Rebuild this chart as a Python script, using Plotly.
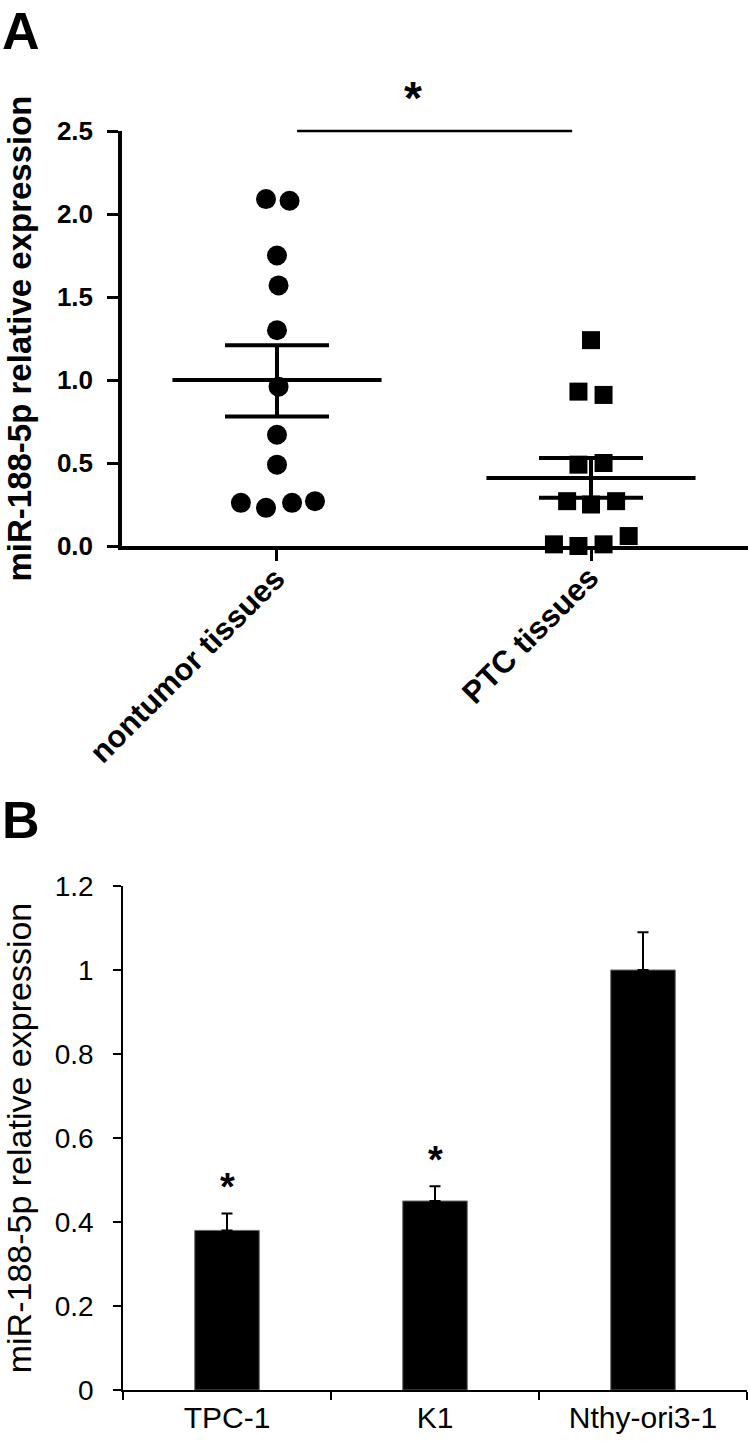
import plotly.graph_objects as go

# ---------------- Panel A data ----------------
groups_a = ["nontumor tissues", "PTC tissues"]
nontumor_vals = [2.09, 2.08, 1.75, 1.57, 1.30, 0.96, 0.67, 0.49, 0.26, 0.23, 0.26, 0.27]
nontumor_jitter = [-0.035, 0.04, 0.0, 0.005, 0.0, 0.005, 0.0, 0.0, -0.115, -0.035, 0.048, 0.121]
ptc_vals = [1.24, 0.93, 0.91, 0.49, 0.50, 0.27, 0.25, 0.27, 0.01, 0.0, 0.01, 0.06]
ptc_jitter = [0.0, -0.04, 0.04, -0.04, 0.04, -0.076, 0.0, 0.08, -0.118, -0.04, 0.04, 0.12]
means_a = [1.00, 0.41]
sem_up_a = [0.21, 0.12]
sem_dn_a = [0.22, 0.12]
yticks_a = [0.0, 0.5, 1.0, 1.5, 2.0, 2.5]
ymax_a = 2.5
star_a_y = 2.70

# ---------------- Panel B data ----------------
cells_b = ["TPC-1", "K1", "Nthy-ori3-1"]
vals_b = [0.38, 0.45, 1.00]
err_b = [0.04, 0.035, 0.09]
star_b = ["*", "*", ""]
yticks_b = [0, 0.2, 0.4, 0.6, 0.8, 1, 1.2]

FONT = "Liberation Sans, Arial, sans-serif"
W, H = 750, 1442

fig = go.Figure()

# Panel A points
fig.add_trace(go.Scatter(
    x=[0 + j for j in nontumor_jitter], y=nontumor_vals, mode="markers",
    marker=dict(symbol="circle", size=20, color="black"),
    cliponaxis=False, xaxis="x", yaxis="y", showlegend=False))
fig.add_trace(go.Scatter(
    x=[1 + j for j in ptc_jitter], y=ptc_vals, mode="markers",
    marker=dict(symbol="square", size=18, color="black"),
    cliponaxis=False, xaxis="x", yaxis="y", showlegend=False))

# mean lines and SEM bars
for i, m in enumerate(means_a):
    fig.add_trace(go.Scatter(
        x=[i - 0.333, i + 0.333], y=[m, m], mode="lines",
        line=dict(color="black", width=4), xaxis="x", yaxis="y", showlegend=False))
    fig.add_trace(go.Scatter(
        x=[i], y=[m], mode="markers", marker=dict(size=1, color="black"),
        error_y=dict(type="data", symmetric=False, array=[sem_up_a[i]],
                     arrayminus=[sem_dn_a[i]], color="black", thickness=4, width=52),
        xaxis="x", yaxis="y", showlegend=False))

# Panel B bars
fig.add_trace(go.Bar(
    x=cells_b, y=vals_b,
    marker=dict(color="black", line=dict(color="#666666", width=1)),
    error_y=dict(type="data", symmetric=False, array=err_b, arrayminus=[0] * len(err_b),
                 color="black", thickness=2, width=5.5),
    xaxis="x2", yaxis="y2", showlegend=False))

ya0, ya1 = 1 - 546 / H, 1 - 131 / H
yb0, yb1 = 1 - 1390 / H, 1 - 886 / H

fig.update_layout(
    width=W, height=H, autosize=False,
    margin=dict(l=0, r=0, t=0, b=0, autoexpand=False),
    paper_bgcolor="white", plot_bgcolor="white",
    font=dict(family=FONT, color="black"),
    bargap=0.69,
    xaxis=dict(domain=[122 / W, 748 / W], range=[-0.4936, 1.5], automargin=False,
               tickvals=[0, 1], ticktext=groups_a, showticklabels=False,
               showline=True, linecolor="black", linewidth=3.5,
               ticks="outside", ticklen=11, tickwidth=3, tickcolor="black",
               showgrid=False, zeroline=False,
               anchor="y"),
    yaxis=dict(domain=[ya0, ya1], range=[0, ymax_a], automargin=False,
               tickvals=yticks_a, ticktext=[f"{v:.1f}" for v in yticks_a],
               showline=True, linecolor="black", linewidth=3.5,
               ticks="outside", ticklen=11, tickwidth=3, tickcolor="black",
               ticklabelstandoff=9,
               showgrid=False, zeroline=False,
               tickfont=dict(family=FONT, size=26, color="black", weight="bold"),
               title=dict(text="miR-188-5p relative expression", standoff=16,
                          font=dict(family=FONT, size=33, color="black", weight="bold")),
               anchor="x"),
    xaxis2=dict(domain=[123 / W, 747 / W], type="category", automargin=False,
                showline=True, linecolor="black", linewidth=1.5,
                ticks="outside", tickson="boundaries", ticklen=8, tickwidth=1.5,
                tickcolor="black", showgrid=False, zeroline=False,
                tickfont=dict(family=FONT, size=30, color="black"),
                anchor="y2"),
    yaxis2=dict(domain=[yb0, yb1], range=[0, 1.2], automargin=False,
                tickvals=yticks_b, ticktext=["0", "0.2", "0.4", "0.6", "0.8", "1", "1.2"],
                showline=True, linecolor="black", linewidth=1.5,
                ticks="outside", ticklen=8, tickwidth=1.5, tickcolor="black",
                ticklabelstandoff=14,
                showgrid=False, zeroline=False,
                tickfont=dict(family=FONT, size=28, color="black"),
                title=dict(text="miR-188-5p relative expression", standoff=26,
                           font=dict(family=FONT, size=34, color="black")),
                anchor="x2"),
)

# rotated category labels for panel A, anchored at their ticks
for i, g in enumerate(groups_a):
    fig.add_annotation(x=i, y=-0.029, xref="x", yref="y domain", text=f"<b>{g}</b>",
                       textangle=-45, showarrow=False, xanchor="right", yanchor="top",
                       xshift=17, font=dict(family=FONT, size=31, color="black"))

# significance bar (panel A), positioned on the y axis' domain
fig.add_shape(type="line", xref="x", yref="y domain", x0=0.064, x1=0.94,
              y0=1.0, y1=1.0, line=dict(color="black", width=2.5))
fig.add_annotation(x=0.433, y=star_a_y / ymax_a, xref="x", yref="y domain", text="<b>*</b>",
                   showarrow=False, font=dict(family=FONT, size=46, color="black"),
                   yanchor="middle")

# asterisks panel B
for c, v, e, s in zip(cells_b, vals_b, err_b, star_b):
    if s:
        fig.add_annotation(x=c, y=v + e + 0.063, xref="x2", yref="y2", text=f"<b>{s}</b>",
                           showarrow=False, font=dict(family=FONT, size=38, color="black"),
                           yanchor="middle")

# panel letters
fig.add_annotation(x=0.0, y=1.0, xref="paper", yref="paper", text="<b>A</b>",
                   showarrow=False, xanchor="left", yanchor="top",
                   font=dict(family=FONT, size=52, color="black"))
fig.add_annotation(x=0.0, y=1 - 789 / H, xref="paper", yref="paper", text="<b>B</b>",
                   showarrow=False, xanchor="left", yanchor="top",
                   font=dict(family=FONT, size=52, color="black"))

fig.write_html("out.html", config={"displayModeBar": False},
               post_script="document.body.style.margin='0';")
